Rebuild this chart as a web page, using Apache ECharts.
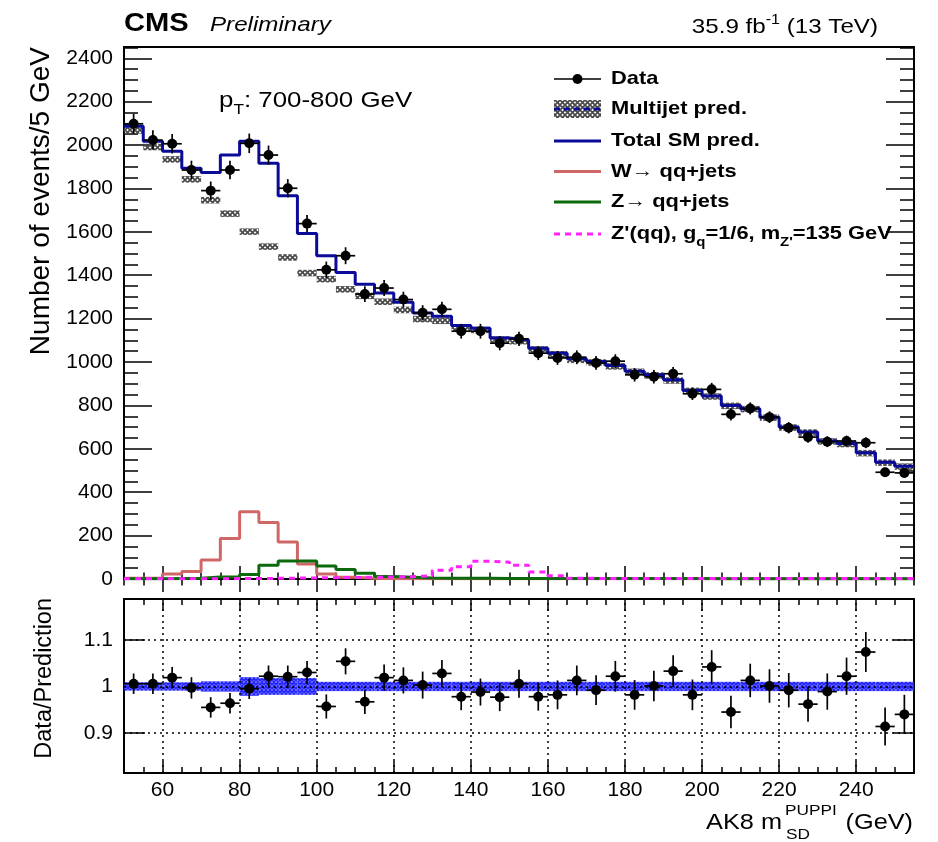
<!DOCTYPE html>
<html>
<head>
<meta charset="utf-8">
<title>AK8 soft-drop mass, pT 700-800 GeV</title>
<script src="https://cdn.jsdelivr.net/npm/echarts@6/dist/echarts.min.js"></script>
<style>
  html, body { margin: 0; padding: 0; background: #fff; }
  #chart { width: 938px; height: 842px; }
</style>
</head>
<body>
<div id="chart"></div>
<script>
// 5 GeV bins of AK8 m_SD (bin centres, GeV)
const massBins = [52.5, 57.5, 62.5, 67.5, 72.5, 77.5, 82.5, 87.5, 92.5, 97.5,
  102.5, 107.5, 112.5, 117.5, 122.5, 127.5, 132.5, 137.5, 142.5, 147.5,
  152.5, 157.5, 162.5, 167.5, 172.5, 177.5, 182.5, 187.5, 192.5, 197.5,
  202.5, 207.5, 212.5, 217.5, 222.5, 227.5, 232.5, 237.5, 242.5, 247.5, 252.5];

// events per bin
const dataCounts = [2098, 2023, 2006, 1885, 1790, 1885, 2008, 1954, 1801, 1638,
  1425, 1490, 1313, 1341, 1288, 1227, 1243, 1142, 1142, 1087,
  1107, 1041, 1019, 1022, 996, 1004, 941, 932, 946, 854,
  874, 759, 786, 746, 697, 654, 633, 636, 628, 492, 489];
const dataErr = [46, 45, 45, 43, 42, 43, 45, 44, 42, 40,
  38, 39, 36, 37, 36, 35, 35, 34, 34, 33,
  33, 32, 32, 32, 32, 32, 31, 31, 31, 29,
  30, 28, 28, 27, 26, 26, 25, 25, 25, 22, 22];
const totalSM = [2087, 2018, 1972, 1893, 1873, 1954, 2018, 1916, 1766, 1592,
  1490, 1413, 1359, 1318, 1275, 1226, 1211, 1168, 1156, 1111,
  1102, 1064, 1041, 1015, 1002, 984, 958, 941, 918, 869,
  843, 800, 785, 746, 700, 677, 636, 624, 582, 538, 520];
const multijet = [2067, 1991, 1934, 1842, 1746, 1684, 1601, 1532, 1482, 1410,
  1382, 1335, 1305, 1278, 1240, 1198, 1190, 1158, 1148, 1104,
  1096, 1058, 1036, 1010, 998, 980, 955, 938, 915, 867,
  841, 798, 783, 744, 698, 675, 634, 622, 580, 536, 518];
const wJets = [3, 3, 23, 34, 87, 187, 310, 260, 170, 69,
  23, 8, 3, 1, 1, 1, 1, 1, 1, 1,
  1, 1, 1, 1, 1, 1, 1, 1, 1, 1,
  1, 1, 1, 1, 1, 1, 1, 1, 1, 1, 1];
const zJets = [1, 1, 2, 3, 9, 9, 21, 63, 83, 83,
  60, 44, 26, 11, 8, 5, 4, 3, 3, 2,
  2, 2, 2, 2, 2, 2, 2, 2, 2, 2,
  1, 1, 1, 1, 1, 1, 1, 1, 1, 1, 1];
const zPrime = [1, 1, 1, 1, 1, 2, 2, 3, 4, 5,
  6, 7, 8, 9, 11, 15, 40, 57, 82, 78,
  63, 32, 15, 4, 2, 2, 2, 2, 2, 2,
  2, 2, 2, 2, 2, 2, 2, 2, 2, 2, 2];
const MULTIJET_UNC = 15;

// lower panel: data / prediction
const ratio = [1.006, 1.006, 1.019, 0.997, 0.955, 0.964, 0.995, 1.022, 1.021, 1.030,
  0.957, 1.054, 0.967, 1.019, 1.013, 1.003, 1.028, 0.978, 0.988, 0.977,
  1.006, 0.978, 0.982, 1.013, 0.992, 1.022, 0.982, 1.001, 1.033, 0.982,
  1.042, 0.945, 1.013, 1.001, 0.992, 0.962, 0.989, 1.022, 1.074, 0.914, 0.940];
const ratioErr = [0.022, 0.022, 0.023, 0.023, 0.022, 0.022, 0.022, 0.023, 0.024, 0.025,
  0.026, 0.028, 0.026, 0.028, 0.028, 0.029, 0.029, 0.029, 0.029, 0.030,
  0.030, 0.030, 0.031, 0.032, 0.032, 0.033, 0.032, 0.033, 0.034, 0.033,
  0.036, 0.035, 0.036, 0.036, 0.037, 0.038, 0.039, 0.040, 0.043, 0.041, 0.042];
const mcUnc = [0.009, 0.009, 0.009, 0.009, 0.011, 0.011, 0.020, 0.018, 0.018, 0.018,
  0.010, 0.010, 0.010, 0.010, 0.010, 0.010, 0.010, 0.010, 0.010, 0.010,
  0.010, 0.010, 0.010, 0.010, 0.010, 0.010, 0.010, 0.010, 0.010, 0.010,
  0.010, 0.010, 0.010, 0.010, 0.010, 0.010, 0.010, 0.010, 0.010, 0.010, 0.010];

// tick labels
const xMajorTicks = [60, 80, 100, 120, 140, 160, 180, 200, 220, 240];
const yMajorTicks = [0, 200, 400, 600, 800, 1000, 1200, 1400, 1600, 1800, 2000, 2200, 2400];
const ratioTicks = [0.9, 1, 1.1];

const HALF_BIN = 2.5;
const FONT = '"Liberation Sans", Arial, Helvetica, sans-serif';
const STRETCH = 1.15;

const xMinorTicks = [];
for (let v = 50; v <= 255; v += 5) xMinorTicks.push(v);
const yMinorTicks = [];
for (let v = 0; v <= 2450; v += 50) yMinorTicks.push(v);

function hatch(color, size, width) {
  const c = document.createElement("canvas");
  c.width = size;
  c.height = size;
  const ctx = c.getContext("2d");
  ctx.strokeStyle = color;
  ctx.lineWidth = width;
  ctx.beginPath();
  ctx.moveTo(-1, -1); ctx.lineTo(size + 1, size + 1);
  ctx.moveTo(size + 1, -1); ctx.lineTo(-1, size + 1);
  ctx.stroke();
  return { image: c, repeat: "repeat" };
}
const grayHatch = hatch("#4a4a4a", 5, 1.7);
const blueHatch = hatch("#2626ff", 4, 1.8);

function massAxis(gridIndex, position, ticks, length, withLabels) {
  return {
    type: "value", gridIndex, position, min: 50, max: 255,
    axisLine: { show: false },
    splitLine: { show: false },
    axisTick: { show: true, inside: true, length, customValues: ticks,
      lineStyle: { color: "#000", width: 1.5 } },
    axisLabel: withLabels
      ? { show: true, customValues: xMajorTicks, margin: 7, color: "#000",
          fontFamily: FONT, fontSize: 21 }
      : { show: false },
  };
}

function countAxis(position, ticks, length, withLabels) {
  return {
    type: "value", gridIndex: 0, position, min: 0, max: 2452,
    axisLine: { show: false },
    splitLine: { show: false },
    axisTick: { show: true, inside: true, length, customValues: ticks,
      lineStyle: { color: "#000", width: 1.5 } },
    axisLabel: withLabels
      ? { show: true, customValues: yMajorTicks, margin: 11, color: "#000",
          fontFamily: FONT, fontSize: 21, formatter: (v) => String(v) }
      : { show: false },
  };
}

function ratioAxis(position, withLabels) {
  return {
    type: "value", gridIndex: 1, position, min: 0.814, max: 1.188,
    axisLine: { show: false },
    splitLine: { show: false },
    axisTick: { show: true, inside: true, length: 21, customValues: ratioTicks,
      lineStyle: { color: "#000", width: 1.5 } },
    axisLabel: withLabels
      ? { show: true, customValues: ratioTicks, margin: 11, color: "#000",
          fontFamily: FONT, fontSize: 21,
          formatter: (v) => String(Math.round(v * 10) / 10) }
      : { show: false },
  };
}

// histogram outline: points at lower bin edges plus the last upper edge
function stepData(values) {
  const pts = values.map((v, i) => [massBins[i] - HALF_BIN, v]);
  pts.push([massBins[values.length - 1] + HALF_BIN, values[values.length - 1]]);
  return pts;
}

function stepSeries(name, values, color, width, dash, z) {
  return {
    name, type: "line", step: "end", xAxisIndex: 0, yAxisIndex: 0,
    data: stepData(values), symbol: "none", showSymbol: false, z,
    lineStyle: { color, width, type: dash || "solid" },
  };
}

function renderBand(fill) {
  return function (params, api) {
    const x = api.value(0);
    const lo = api.coord([x - HALF_BIN, api.value(1)]);
    const hi = api.coord([x + HALF_BIN, api.value(2)]);
    return {
      type: "rect",
      shape: { x: lo[0], y: hi[1], width: hi[0] - lo[0], height: lo[1] - hi[1] },
      style: { fill },
    };
  };
}

function renderPoint(params, api) {
  const x = api.value(0), y = api.value(1), e = api.value(2);
  const c = api.coord([x, y]);
  const l = api.coord([x - HALF_BIN, y]);
  const r = api.coord([x + HALF_BIN, y]);
  const t = api.coord([x, y + e]);
  const b = api.coord([x, y - e]);
  const st = { stroke: "#000", lineWidth: 1.7 };
  return {
    type: "group",
    children: [
      { type: "line", shape: { x1: l[0], y1: c[1], x2: r[0], y2: c[1] }, style: st },
      { type: "line", shape: { x1: c[0], y1: t[1], x2: c[0], y2: b[1] }, style: st },
      { type: "circle", shape: { cx: c[0], cy: c[1], r: 5 }, style: { fill: "#000" } },
    ],
  };
}

function label(x, y, text, opts) {
  const o = opts || {};
  const align = o.align || "left";
  return {
    type: "text", x, y, silent: true,
    scaleX: o.rotation ? 1 : (o.scaleX || STRETCH),
    rotation: o.rotation || 0,
    style: {
      text, rich: o.rich,
      font: o.font || "21px " + FONT,
      fill: "#000",
      align, textAlign: align,
      verticalAlign: "middle", textVerticalAlign: "middle",
    },
  };
}

function tok(size, extra) {
  return Object.assign({ fontSize: size, fontFamily: FONT, fill: "#000" }, extra || {});
}

const C_TOTAL = "#0b0b99";
const C_W = "#d06767";
const C_Z = "#0c6a0c";
const C_ZP = "#ff22ff";

const LX0 = 554, LX1 = 601, LTX = 611;
const legendRows = [79, 109, 141, 171.5, 202, 234];
const bold19 = "bold 19px " + FONT;

const graphic = [
  label(124, 24, "CMS", { font: "bold 26px " + FONT, scaleX: 1.12 }),
  label(210, 25, "Preliminary", { font: "italic 21px " + FONT }),
  label(878, 27, "{m|35.9 fb}{u|-1}{m| (13 TeV)}", {
    align: "right",
    rich: { m: tok(21), u: tok(14, { padding: [0, 0, 14, 0] }) },
  }),
  label(219, 101, "{m|p}{s|T}{m|: 700-800 GeV}", {
    rich: { m: tok(22.5), s: tok(15, { padding: [18, 0, 0, 0] }) },
  }),
  // axis titles
  label(41, 47, "Number of events/5 GeV", {
    align: "right", rotation: Math.PI / 2, font: "28px " + FONT,
  }),
  label(45, 598, "Data/Prediction", {
    align: "right", rotation: Math.PI / 2, font: "23.5px " + FONT,
  }),
  label(782, 823, "AK8 m", { align: "right", font: "22px " + FONT }),
  label(785, 811, "PUPPI", { font: "15px " + FONT }),
  label(786, 835, "SD", { font: "15px " + FONT }),
  label(913, 823, "(GeV)", { align: "right", font: "22px " + FONT }),

  // legend
  { type: "line", silent: true, shape: { x1: LX0, y1: legendRows[0], x2: LX1, y2: legendRows[0] },
    style: { stroke: "#000", lineWidth: 1.5 } },
  { type: "circle", silent: true, shape: { cx: (LX0 + LX1) / 2, cy: legendRows[0], r: 5 },
    style: { fill: "#000" } },
  { type: "rect", silent: true, shape: { x: LX0, y: legendRows[1] - 9, width: LX1 - LX0, height: 18 },
    style: { fill: grayHatch } },
  { type: "line", silent: true, shape: { x1: LX0, y1: legendRows[1], x2: LX1, y2: legendRows[1] },
    style: { stroke: C_TOTAL, lineWidth: 3, lineDash: [6, 4] } },
  { type: "line", silent: true, shape: { x1: LX0, y1: legendRows[2], x2: LX1, y2: legendRows[2] },
    style: { stroke: C_TOTAL, lineWidth: 3 } },
  { type: "line", silent: true, shape: { x1: LX0, y1: legendRows[3], x2: LX1, y2: legendRows[3] },
    style: { stroke: C_W, lineWidth: 3 } },
  { type: "line", silent: true, shape: { x1: LX0, y1: legendRows[4], x2: LX1, y2: legendRows[4] },
    style: { stroke: C_Z, lineWidth: 3 } },
  { type: "line", silent: true, shape: { x1: LX0, y1: legendRows[5], x2: LX1, y2: legendRows[5] },
    style: { stroke: C_ZP, lineWidth: 3, lineDash: [6, 5] } },
  label(LTX, legendRows[0], "Data", { font: bold19 }),
  label(LTX, legendRows[1], "Multijet pred.", { font: bold19 }),
  label(LTX, legendRows[2], "Total SM pred.", { font: bold19 }),
  label(LTX, legendRows[3], "W\u2192 qq+jets", { font: bold19 }),
  label(LTX, legendRows[4], "Z\u2192 qq+jets", { font: bold19 }),
  label(LTX, legendRows[5], "{m|Z'(qq), g}{s|q}{m|=1/6, m}{s|Z'}{m|=135 GeV}", {
    rich: {
      m: tok(19, { fontWeight: "bold" }),
      s: tok(13, { fontWeight: "bold", padding: [16, 0, 0, 0] }),
    },
  }),
];

const chart = echarts.init(document.getElementById("chart"), null, { renderer: "canvas" });

chart.setOption({
  animation: false,
  backgroundColor: "#fff",
  grid: [
    { left: 124, width: 790, top: 47, height: 532, show: true,
      borderColor: "#000", borderWidth: 2, backgroundColor: "transparent" },
    { left: 124, width: 790, top: 599, height: 174, show: true,
      borderColor: "#000", borderWidth: 2, backgroundColor: "transparent" },
  ],
  xAxis: [
    massAxis(0, "bottom", xMajorTicks, 13),
    massAxis(0, "bottom", xMinorTicks, 6.5),
    massAxis(0, "top", xMajorTicks, 13),
    massAxis(0, "top", xMinorTicks, 6.5),
    massAxis(1, "bottom", xMajorTicks, 12, true),
    massAxis(1, "bottom", xMinorTicks, 6),
    massAxis(1, "top", xMajorTicks, 12),
    massAxis(1, "top", xMinorTicks, 6),
  ],
  yAxis: [
    countAxis("left", yMajorTicks, 28, true),
    countAxis("left", yMinorTicks, 14),
    countAxis("right", yMajorTicks, 28),
    countAxis("right", yMinorTicks, 14),
    ratioAxis("left", true),
    ratioAxis("right"),
  ],
  graphic,
  series: [
    {
      name: "Multijet pred.", type: "custom", xAxisIndex: 0, yAxisIndex: 0, z: 2,
      renderItem: renderBand(grayHatch),
      encode: { x: 0, y: [1, 2] },
      data: massBins.map((m, i) => [m, multijet[i] - MULTIJET_UNC, multijet[i] + MULTIJET_UNC]),
    },
    stepSeries("W\u2192 qq+jets", wJets, C_W, 3, null, 3),
    stepSeries("Z\u2192 qq+jets", zJets, C_Z, 3, null, 3),
    stepSeries("Z'(qq)", zPrime, C_ZP, 3, [6, 5], 3),
    stepSeries("Total SM pred.", totalSM, C_TOTAL, 3, null, 4),
    {
      name: "Data", type: "custom", xAxisIndex: 0, yAxisIndex: 0, z: 5,
      renderItem: renderPoint,
      encode: { x: 0, y: 1 },
      data: massBins.map((m, i) => [m, dataCounts[i], dataErr[i]]),
    },
    // ratio panel: dotted grid
    {
      type: "line", xAxisIndex: 4, yAxisIndex: 4, z: 1,
      data: [[50, 1]], symbol: "none", lineStyle: { opacity: 0 },
      markLine: {
        silent: true, symbol: ["none", "none"], label: { show: false },
        lineStyle: { color: "#000", width: 1.5, type: [2, 4] },
        data: xMajorTicks.map((v) => ({ xAxis: v })).concat(ratioTicks.map((v) => ({ yAxis: v }))),
      },
    },
    {
      name: "MC stat. unc.", type: "custom", xAxisIndex: 4, yAxisIndex: 4, z: 2,
      renderItem: renderBand(blueHatch),
      encode: { x: 0, y: [1, 2] },
      data: massBins.map((m, i) => [m, 1 - mcUnc[i], 1 + mcUnc[i]]),
    },
    {
      name: "Data/Prediction", type: "custom", xAxisIndex: 4, yAxisIndex: 4, z: 5,
      renderItem: renderPoint,
      encode: { x: 0, y: 1 },
      data: massBins.map((m, i) => [m, ratio[i], ratioErr[i]]),
    },
  ],
});
</script>
</body>
</html>
